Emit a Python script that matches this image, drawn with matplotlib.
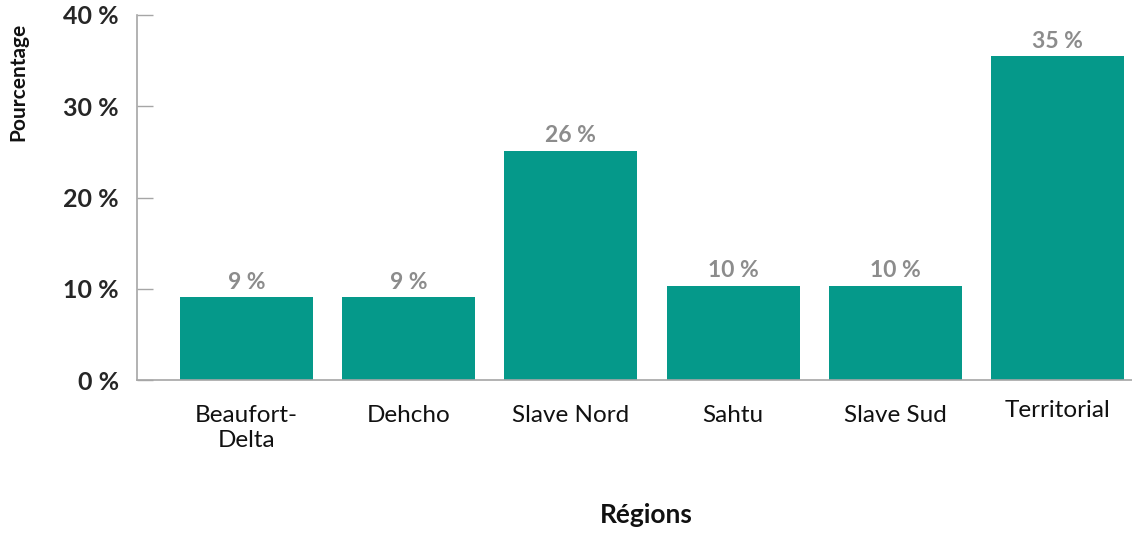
import numpy as np
import matplotlib
matplotlib.use("Agg")
import matplotlib.pyplot as plt

plt.rcParams["font.family"] = ["Lato", "DejaVu Sans"]

# data
regions = ["Beaufort-\nDelta", "Dehcho", "Slave Nord", "Sahtu", "Slave Sud", "Territorial"]
shares = [9.05, 9.05, 25.1, 10.3, 10.3, 35.5]
share_labels = ["9 %", "9 %", "26 %", "10 %", "10 %", "35 %"]
y_ticks = [0, 10, 20, 30, 40]
y_tick_labels = ["0 %", "10 %", "20 %", "30 %", "40 %"]

bar_color = "#05998A"
axis_gray = "#A6A6A6"

fig = plt.figure(figsize=(11.32, 5.33), dpi=100)
ax = fig.add_axes([137 / 1132, 1 - 380 / 533, 1 - 137 / 1132, (380 - 15) / 533])

x = np.arange(len(regions))
bars = ax.bar(x, shares, width=0.82, color=bar_color)

for rect, lab in zip(bars, share_labels):
    ax.text(rect.get_x() + rect.get_width() / 2, rect.get_height() + 0.5, lab,
            ha="center", va="bottom", fontsize=16.5, fontweight="bold", color="#8C8C8C")

ax.set_xlim(-0.675, 5.46)
ax.set_ylim(0, 40)
ax.set_yticks(y_ticks)
ax.set_yticklabels(y_tick_labels, fontsize=18, fontweight="bold", color="#262626")
ax.set_xticks(x)
ax.set_xticklabels(regions, fontsize=17.5, color="#111111", linespacing=1.25)

ax.tick_params(axis="y", direction="in", length=11.5, width=1, color=axis_gray, pad=13)
ax.tick_params(axis="x", length=0, pad=18)
# the last category label sits a little higher in the original
ax.get_xticklabels()[-1].set_y(0.015)

for side in ["top", "right"]:
    ax.spines[side].set_visible(False)
for side in ["left", "bottom"]:
    ax.spines[side].set_color(axis_gray)
    ax.spines[side].set_linewidth(1.2)

fig.text(18 / 1132, 1 - 82 / 533, "Pourcentage", rotation=90, ha="center", va="center",
         fontsize=15, fontweight="bold", color="#111111")
fig.text(646 / 1132, 1 - 515 / 533, "Régions", ha="center", va="center",
         fontsize=19, fontweight="bold", color="#111111")

fig.savefig("out.png", dpi=100)
